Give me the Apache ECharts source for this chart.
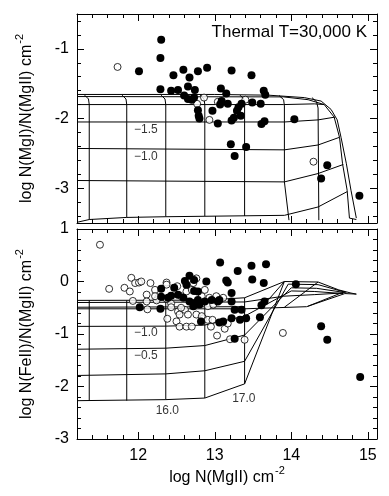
<!DOCTYPE html>
<html><head><meta charset="utf-8">
<script src="https://cdn.jsdelivr.net/npm/echarts@6/dist/echarts.min.js"></script>
<style>html,body{margin:0;padding:0;background:#fff}#c{width:389px;height:496px}</style>
</head><body><div id="c"></div>
<script>
// ---------- axes / ticks ----------
const X_MIN = 11.2, X_MAX = 15.12;
const TOP_Y_MIN = -3.5, TOP_Y_MAX = -0.5;
const BOT_Y_MIN = -3, BOT_Y_MAX = 1;
const xMajor = [12, 13, 14, 15];
const xMinor = [11.4, 11.6, 11.8, 12.2, 12.4, 12.6, 12.8, 13.2, 13.4, 13.6, 13.8, 14.2, 14.4, 14.6, 14.8];
const topYMajor = [-1, -2, -3];
const topYMinor = [-0.6, -0.8, -1.2, -1.4, -1.6, -1.8, -2.2, -2.4, -2.6, -2.8, -3.2, -3.4];
const botYMajor = [1, 0, -1, -2, -3];
const botYMinor = [0.8, 0.6, 0.4, 0.2, -0.2, -0.4, -0.6, -0.8, -1.2, -1.4, -1.6, -1.8, -2.2, -2.4, -2.6, -2.8];

// ---------- top panel: log N(MgI)/N(MgII) ----------
const topFilled = [
  [12.30,-0.87],[12.29,-1.13],[12.01,-1.32],[12.46,-1.38],[12.59,-1.30],[12.67,-1.41],[12.78,-1.32],[12.90,-1.27],[13.22,-1.31],[13.48,-1.38],
  [12.29,-1.58],[12.43,-1.60],[12.52,-1.59],[12.65,-1.54],[12.74,-1.59],
  [12.60,-1.67],[12.65,-1.72],[12.70,-1.73],[12.73,-1.70],
  [12.78,-1.88],[12.79,-1.96],[12.80,-2.00],[12.97,-1.89],[13.04,-2.07],
  [13.08,-1.57],[13.15,-1.64],[13.09,-1.75],[13.07,-1.80],[13.17,-1.79],
  [13.22,-2.03],[13.25,-1.99],[13.29,-1.89],[13.31,-1.84],[13.34,-1.96],[13.35,-1.79],
  [13.49,-1.77],[13.60,-1.79],[13.64,-1.60],[13.66,-1.66],[13.61,-2.08],[13.65,-2.04],
  [13.21,-2.37],[13.26,-2.54],[13.41,-2.41],
  [14.04,-2.01],[14.47,-2.67],[14.39,-2.86],[14.89,-3.11]
];
const topOpen = [
  [11.73,-1.26],[12.77,-1.79],[12.86,-1.70],[12.93,-2.02],[13.04,-1.76],[13.40,-1.73],[14.29,-2.62]
];
const topMesh = [
  [[11.2,-1.655],[13.0,-1.655],[13.7,-1.665],[14.17,-1.70],[14.39,-1.75],[14.52,-1.87],[14.60,-2.02],[14.65,-2.27],[14.72,-2.65],[14.78,-3.03],[14.85,-3.43]],
  [[11.2,-1.685],[13.9,-1.69],[14.22,-1.73],[14.43,-1.80],[14.56,-1.98],[14.63,-2.27],[14.67,-2.65],[14.73,-3.03],[14.76,-3.43]],
  [[14.76,-3.43],[14.85,-3.45]],
  [[11.2,-1.80],[13.9,-1.80],[14.3,-1.79],[14.43,-1.80]],
  [[11.2,-2.05],[13.91,-2.05],[14.35,-2.02],[14.57,-1.98]],
  [[11.2,-2.43],[13.91,-2.45],[14.35,-2.38],[14.63,-2.27]],
  [[11.2,-2.89],[13.91,-2.91],[14.35,-2.79],[14.68,-2.66]],
  [[11.2,-3.49],[11.36,-3.45],[11.85,-3.42],[12.36,-3.41],[13.91,-3.39],[14.35,-3.27],[14.73,-3.05]],
  [[11.30,-1.665],[11.35,-1.72],[11.36,-1.80],[11.36,-3.45]],
  [[11.79,-1.665],[11.84,-1.72],[11.85,-1.80],[11.85,-3.42]],
  [[12.30,-1.665],[12.35,-1.72],[12.36,-1.80],[12.36,-3.41]],
  [[12.81,-1.665],[12.86,-1.72],[12.87,-1.80],[12.87,-3.40]],
  [[13.33,-1.665],[13.38,-1.72],[13.39,-1.80],[13.39,-3.40]],
  [[13.84,-1.67],[13.90,-1.73],[13.91,-1.82],[13.91,-2.91],[13.97,-3.46]],
  [[14.27,-1.70],[14.33,-1.76],[14.35,-1.85],[14.36,-3.46]]
];
const topLabelText = ['\u22121.5', '\u22121.0'];
const topLabelPos = [[12.10,-2.16],[12.10,-2.55]];

// ---------- bottom panel: log N(FeII)/N(MgII) ----------
const botFilled = [
  [13.07,0.36],[13.30,0.20],[13.48,0.30],[13.67,0.33],
  [12.89,0.00],[13.15,0.02],[13.17,-0.02],[13.49,0.04],[13.64,-0.03],[13.22,-0.22],[14.06,-0.05],
  [12.67,0.11],[12.73,0.03],[12.61,0.01],[12.63,-0.06],
  [12.30,-0.14],[12.47,-0.12],[12.73,-0.18],[12.78,-0.19],
  [12.30,-0.29],[12.39,-0.31],[12.43,-0.27],[12.52,-0.25],[12.59,-0.31],[12.67,-0.38],[12.74,-0.41],[12.78,-0.35],[12.72,-0.47],[12.80,-0.44],[12.87,-0.38],[12.96,-0.35],[13.04,-0.38],[13.06,-0.35],[13.22,-0.38],
  [12.02,-0.49],[12.29,-0.52],
  [13.26,-0.54],[13.35,-0.54],[13.61,-0.45],[13.65,-0.38],
  [13.41,-0.70],[13.33,-0.73],[13.22,-0.70],[13.06,-0.78],[13.11,-0.76],[12.82,-0.76],[13.59,-0.68],
  [13.26,-1.09],
  [14.39,-0.85],[14.47,-1.11],[14.90,-1.82]
];
const botOpen = [
  [11.50,0.70],[11.62,-0.14],[11.82,-0.12],[11.89,-0.19],[11.91,0.07],[11.96,-0.03],[12.01,-0.02],[12.04,0.00],[12.16,-0.03],[12.11,-0.25],[12.22,-0.16],[12.37,-0.02],[12.51,-0.09],[12.76,0.06],[12.72,-0.03],
  [11.93,-0.37],[12.11,-0.38],[12.12,-0.53],[12.26,-0.31],[12.24,-0.36],[12.37,-0.33],[12.43,-0.42],[12.43,-0.49],[12.52,-0.57],[12.61,-0.54],[12.56,-0.50],
  [12.38,-0.71],[12.50,-0.76],[12.54,-0.86],[12.63,-0.86],[12.70,-0.86],[12.65,-0.63],[12.54,-0.63],[12.76,-0.63],[12.85,-0.70],[12.83,-0.66],[12.91,-0.73],[12.97,-0.73],[12.95,-0.86],
  [13.03,-1.03],[13.13,-0.90],[13.20,-1.10],[13.17,-0.80],[13.39,-1.11],[13.89,-0.98],
  [12.83,-0.28],[12.93,-0.31],[13.02,-0.28],[13.11,-0.31],[12.91,-0.47],[12.98,-0.44],[12.22,-0.28],[12.63,-0.19],[12.56,-0.28],[12.87,-0.16],[12.70,-0.16],[12.37,-0.06]
];
const botMesh = [
  [[11.36,-0.36],[11.36,-2.27]],
  [[11.85,-0.36],[11.85,-2.27]],
  [[12.36,-0.36],[12.36,-2.25]],
  [[12.87,-0.355],[12.87,-2.22]],
  [[13.39,-0.31],[13.39,-1.95]],
  [[11.2,-0.36],[12.87,-0.355],[13.39,-0.31],[13.91,0.0]],
  [[11.2,-0.40],[13.39,-0.39],[13.9,-0.28],[14.3,-0.25],[14.65,-0.22]],
  [[11.2,-0.49],[13.39,-0.48]],
  [[11.2,-0.52],[13.39,-0.52],[14.2,-0.48],[14.7,-0.23],[14.85,-0.24]],
  [[11.2,-0.855],[12.36,-0.85],[12.87,-0.83],[13.39,-0.66],[14.0,-0.18],[14.3,-0.19],[14.68,-0.23]],
  [[11.2,-1.29],[12.36,-1.27],[12.87,-1.22],[13.39,-1.02],[14.0,-0.12],[14.33,-0.13],[14.7,-0.21]],
  [[11.2,-1.79],[12.36,-1.76],[12.87,-1.70],[13.39,-1.52],[13.96,-0.05],[14.35,-0.06],[14.72,-0.21]],
  [[11.2,-2.27],[12.36,-2.25],[12.87,-2.22],[13.39,-1.95],[13.91,0.0],[14.35,-0.01],[14.62,-0.16],[14.78,-0.22],[14.85,-0.24]],
  [[13.61,-0.50],[13.91,0.0]],
  [[13.91,-0.49],[14.35,-0.01]],
  [[14.22,-0.47],[14.70,-0.19]]
];
const botLabelText = ['\u22121.0', '\u22120.5', '16.0', '17.0'];
const botLabelPos = [[12.10,-0.97],[12.10,-1.41],[12.38,-2.47],[13.38,-2.23]];

// ---------- chart ----------
const FONT = '"Liberation Sans", Arial, sans-serif';
const rich = { sup: { fontSize: 11, fontFamily: FONT, color: '#000', padding: [0, 0, 14, 1] } };

function xAxesFor(grid, labelled) {
  const mk = (pos, ticks, len, line, showLab) => ({
    type: 'value', gridIndex: grid, position: pos, min: X_MIN, max: X_MAX,
    axisLine: { show: line, onZero: false, lineStyle: { color: '#000', width: 1 } },
    splitLine: { show: false },
    axisTick: { show: true, inside: true, length: len, customValues: ticks, lineStyle: { color: '#000', width: 1 } },
    axisLabel: showLab ? { show: true, customValues: xMajor, color: '#000', fontFamily: FONT, fontSize: 16, margin: 9, formatter: v => String(v) } : { show: false }
  });
  const a = mk('bottom', xMajor, 7, true, labelled);
  if (labelled) {
    a.name = 'log N(MgII) cm{sup|-2}';
    a.nameLocation = 'middle';
    a.nameGap = 26;
    a.nameTextStyle = { color: '#000', fontFamily: FONT, fontSize: 16, rich: rich };
  }
  return [a, mk('bottom', xMinor, 4, false, false), mk('top', xMajor, 7, true, false), mk('top', xMinor, 4, false, false)];
}
function yAxesFor(grid, min, max, major, minor, name) {
  const mk = (pos, ticks, len, line, showLab) => ({
    type: 'value', gridIndex: grid, position: pos, min: min, max: max,
    axisLine: { show: line, onZero: false, lineStyle: { color: '#000', width: 1 } },
    splitLine: { show: false },
    axisTick: { show: true, inside: true, length: len, customValues: ticks, lineStyle: { color: '#000', width: 1 } },
    axisLabel: showLab ? { show: true, customValues: major, color: '#000', fontFamily: FONT, fontSize: 16, margin: 8, formatter: v => String(v) } : { show: false }
  });
  const a = mk('left', major, 7, true, true);
  a.name = name;
  a.nameLocation = 'middle';
  a.nameGap = 38;
  a.nameTextStyle = { color: '#000', fontFamily: FONT, fontSize: 16, rich: rich };
  return [a, mk('left', minor, 4, false, false), mk('right', major, 7, true, false), mk('right', minor, 4, false, false)];
}

const series = [];
function addPanel(xi, yi, mesh, filled, open, labText, labPos) {
  mesh.forEach(poly => series.push({
    type: 'line', xAxisIndex: xi, yAxisIndex: yi, data: poly, symbol: 'none', silent: true,
    lineStyle: { color: '#000', width: 1 }, z: 1, animation: false
  }));
  series.push({
    type: 'scatter', xAxisIndex: xi, yAxisIndex: yi, data: open, symbol: 'circle', symbolSize: 7,
    itemStyle: { color: '#fff', borderColor: '#000', borderWidth: 1 }, z: 3, silent: true
  });
  series.push({
    type: 'scatter', xAxisIndex: xi, yAxisIndex: yi, data: filled, symbol: 'circle', symbolSize: 8,
    itemStyle: { color: '#000', opacity: 1 }, z: 4, silent: true
  });
  series.push({
    type: 'scatter', xAxisIndex: xi, yAxisIndex: yi, symbolSize: 0, silent: true, z: 5,
    data: labPos.map((p, i) => ({ value: p, name: labText[i] })),
    label: { show: true, position: 'inside', formatter: p => p.name, color: '#000', fontFamily: FONT, fontSize: 12 }
  });
}
addPanel(0, 0, topMesh, topFilled, topOpen, topLabelText, topLabelPos);
addPanel(4, 4, botMesh, botFilled, botOpen, botLabelText, botLabelPos);

const chart = echarts.init(document.getElementById('c'), null, { renderer: 'canvas' });
chart.setOption({
  animation: false,
  backgroundColor: '#fff',
  title: { text: 'Thermal T=30,000 K', right: 22, top: 24, padding: 0,
    textStyle: { color: '#000', fontFamily: FONT, fontSize: 17, fontWeight: 'normal' } },
  grid: [
    { left: 77, top: 14, width: 300, height: 209 },
    { left: 77, top: 229, width: 300, height: 210 }
  ],
  xAxis: [...xAxesFor(0, false), ...xAxesFor(1, true)],
  yAxis: [
    ...yAxesFor(0, TOP_Y_MIN, TOP_Y_MAX, topYMajor, topYMinor, 'log N(MgI)/N(MgII) cm{sup|-2}'),
    ...yAxesFor(1, BOT_Y_MIN, BOT_Y_MAX, botYMajor, botYMinor, 'log N(FeII)/N(MgII) cm{sup|-2}')
  ],
  series: series
});
</script>
</body></html>
